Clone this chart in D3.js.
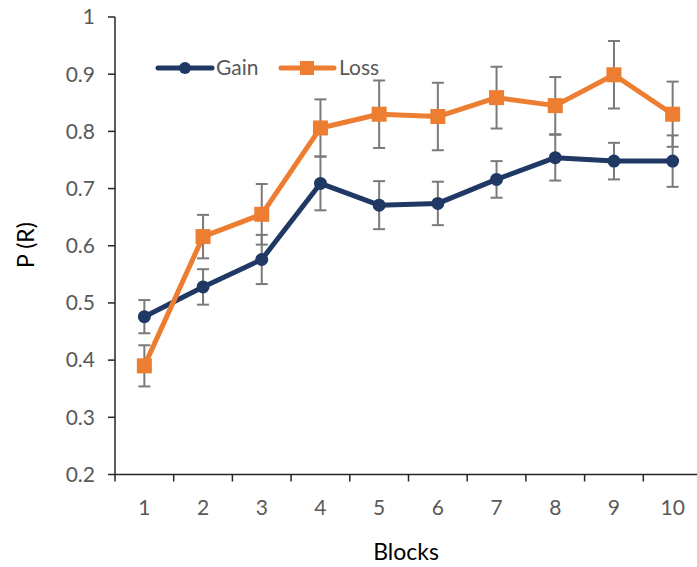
<!DOCTYPE html>
<html><head><meta charset="utf-8">
<script src="https://d3js.org/d3.v7.min.js"></script>
<style>body{margin:0;background:#fff}svg{display:block}</style>
</head><body>
<script>
const blocks = ["1","2","3","4","5","6","7","8","9","10"];
const gain = [0.476,0.528,0.576,0.709,0.671,0.674,0.716,0.754,0.748,0.748];
const gainErr = [0.029,0.031,0.043,0.047,0.042,0.038,0.032,0.040,0.032,0.045];
const loss = [0.390,0.616,0.655,0.806,0.830,0.826,0.859,0.845,0.899,0.830];
const lossErr = [0.036,0.038,0.053,0.050,0.059,0.059,0.054,0.050,0.059,0.057];
const yTicks = [0.2,0.3,0.4,0.5,0.6,0.7,0.8,0.9,1];

const W=697,H=567;
const svg=d3.select("body").append("svg").attr("width",W).attr("height",H);
const font="Lato, 'Open Sans', sans-serif";
const x=d3.scaleBand().domain(blocks).range([115,702]).padding(0);
const y=d3.scaleLinear().domain([0.2,1]).range([474.5,17]);
const txt="#595959";

// y axis
const ya=svg.append("g");
ya.append("line").attr("x1",115).attr("x2",115).attr("y1",y(1)).attr("y2",y(0.2)).attr("stroke","#262626").attr("stroke-width",1.5);
ya.selectAll("line.t").data(yTicks).join("line").attr("class","t")
  .attr("x1",108).attr("x2",115).attr("y1",d=>y(d)).attr("y2",d=>y(d)).attr("stroke","#262626").attr("stroke-width",1.5);
ya.selectAll("text").data(yTicks).join("text")
  .attr("x",95).attr("y",d=>y(d)).attr("dy","0.35em").attr("text-anchor","end")
  .attr("font-family",font).attr("font-size",21).attr("fill",txt).text(d=>d3.format("")(+d.toFixed(1)));

// x axis
const xa=svg.append("g");
xa.append("line").attr("x1",115).attr("x2",702).attr("y1",y(0.2)).attr("y2",y(0.2)).attr("stroke","#262626").attr("stroke-width",1.5);
const bounds=blocks.map(b=>x(b)).concat([x(blocks[blocks.length-1])+x.bandwidth()]);
xa.selectAll("line.t").data(bounds).join("line").attr("class","t")
  .attr("x1",d=>d).attr("x2",d=>d).attr("y1",y(0.2)).attr("y2",y(0.2)+7).attr("stroke","#262626").attr("stroke-width",1.5);
xa.selectAll("text").data(blocks).join("text")
  .attr("x",d=>x(d)+x.bandwidth()/2).attr("y",515).attr("text-anchor","middle")
  .attr("font-family",font).attr("font-size",21).attr("fill",txt).text(d=>d);

// titles
svg.append("text").attr("x",406).attr("y",560).attr("text-anchor","middle")
  .attr("font-family",font).attr("font-size",23).attr("fill","#000").text("Blocks");
svg.append("text").attr("transform","translate(34,245) rotate(-90)").attr("text-anchor","middle")
  .attr("font-family",font).attr("font-size",23).attr("fill","#000").text("P (R)");

const cx=d=>x(d)+x.bandwidth()/2;
const errCol="#7a7a7a";
function errBars(vals,errs){
  const g=svg.append("g").attr("stroke",errCol).attr("stroke-width",2);
  blocks.forEach((b,i)=>{
    const X=cx(b),t=y(vals[i]+errs[i]),bo=y(vals[i]-errs[i]);
    g.append("line").attr("x1",X).attr("x2",X).attr("y1",t).attr("y2",bo);
    g.append("line").attr("x1",X-6).attr("x2",X+6).attr("y1",t).attr("y2",t);
    g.append("line").attr("x1",X-6).attr("x2",X+6).attr("y1",bo).attr("y2",bo);
  });
}
errBars(gain,gainErr);
errBars(loss,lossErr);

const line=d3.line().x((d,i)=>cx(blocks[i])).y(d=>y(d));
const navy="#203864", orange="#ED7D31";
svg.append("path").datum(gain).attr("d",line).attr("fill","none").attr("stroke",navy).attr("stroke-width",5).attr("stroke-linejoin","round");
svg.selectAll("circle.g").data(gain).join("circle").attr("class","g")
  .attr("cx",(d,i)=>cx(blocks[i])).attr("cy",d=>y(d)).attr("r",6.5).attr("fill",navy);
svg.append("path").datum(loss).attr("d",line).attr("fill","none").attr("stroke",orange).attr("stroke-width",5).attr("stroke-linejoin","round");
svg.selectAll("rect.l").data(loss).join("rect").attr("class","l")
  .attr("x",(d,i)=>cx(blocks[i])-7.5).attr("y",d=>y(d)-7.5).attr("width",15).attr("height",15).attr("fill",orange);

// legend
const lg=svg.append("g");
lg.append("line").attr("x1",158).attr("x2",212).attr("y1",68).attr("y2",68).attr("stroke",navy).attr("stroke-width",5).attr("stroke-linecap","round");
lg.append("circle").attr("cx",185).attr("cy",68).attr("r",6).attr("fill",navy);
lg.append("text").attr("x",216).attr("y",68).attr("dy","0.35em").attr("font-family",font).attr("font-size",21).attr("fill",txt).text("Gain");
lg.append("line").attr("x1",281).attr("x2",334).attr("y1",68).attr("y2",68).attr("stroke",orange).attr("stroke-width",5).attr("stroke-linecap","round");
lg.append("rect").attr("x",300).attr("y",61).attr("width",14).attr("height",14).attr("fill",orange);
lg.append("text").attr("x",339).attr("y",68).attr("dy","0.35em").attr("font-family",font).attr("font-size",21).attr("fill",txt).text("Loss");
</script>
</body></html>
